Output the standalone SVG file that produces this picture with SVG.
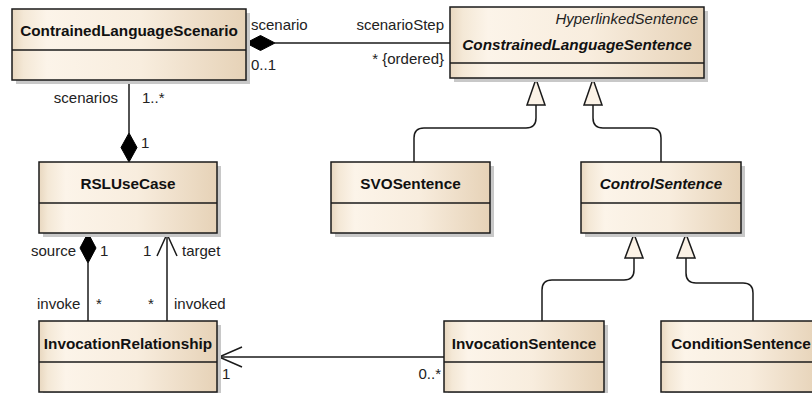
<svg xmlns="http://www.w3.org/2000/svg" width="812" height="393" viewBox="0 0 812 393">
<defs>
<linearGradient id="fill" x1="0" y1="0" x2="1" y2="0">
<stop offset="0" stop-color="#E8D7BF"/>
<stop offset="0.05" stop-color="#F4E8D6"/>
<stop offset="0.15" stop-color="#FCF4E9"/>
<stop offset="0.55" stop-color="#F8EDDE"/>
<stop offset="1" stop-color="#E6D2B7"/>
</linearGradient>
</defs>
<style>
.shadow{fill:#C8C8C8;}
.box{fill:url(#fill);stroke:#1a1a1a;stroke-width:1.5;}
.sep{stroke:#1a1a1a;stroke-width:1.5;}
.name{font-family:"Liberation Sans",Arial,sans-serif;font-size:15.3px;font-weight:bold;fill:#111;text-anchor:middle;}
.abs{font-style:italic;}
.stereo{font-family:"Liberation Sans",Arial,sans-serif;font-size:15px;font-style:italic;fill:#222;text-anchor:end;}
.lbl{font-family:"Liberation Sans",Arial,sans-serif;font-size:15px;fill:#222;}
.end{text-anchor:end;}
.line{fill:none;stroke:#1a1a1a;stroke-width:1.5;}
.tri{fill:#FBF2E6;stroke:#1a1a1a;stroke-width:1.5;stroke-linejoin:miter;}
.dia{fill:#000;stroke:#000;stroke-width:1;}
</style>

<g id="connectors">
<!-- composition scenario -->
<line class="line" x1="275" y1="43" x2="450" y2="43"/>
<polygon class="dia" points="246,43 260.5,35.5 275,43 260.5,50.5"/>
<!-- composition scenarios -->
<line class="line" x1="129" y1="80" x2="129" y2="133"/>
<polygon class="dia" points="129,162 121,147.5 129,133 137,147.5"/>
<!-- composition invoke -->
<line class="line" x1="88" y1="263" x2="88" y2="321"/>
<polygon class="dia" points="88,233 80,248 88,263 96,248"/>
<!-- association target -->
<line class="line" x1="167" y1="321" x2="167" y2="234"/>
<polyline class="line" points="157,256 167,234 177,256"/>
<!-- association InvocationSentence -> InvocationRelationship -->
<line class="line" x1="219" y1="357" x2="444" y2="357"/>
<polyline class="line" points="242,347 219,357 242,367"/>
<!-- generalizations -->
<path class="line" d="M536,105 V118 Q536,128 526,128 H424 Q414,128 414,138 V162"/>
<polygon class="tri" points="536,79 527,105 545,105"/>
<path class="line" d="M593,105 V118 Q593,128 603,128 H651 Q661,128 661,138 V162"/>
<polygon class="tri" points="593,79 584,105 602,105"/>
<path class="line" d="M634,258 V270 Q634,280 624,280 H552 Q542,280 542,290 V321"/>
<polygon class="tri" points="634,234 625,258 643,258"/>
<path class="line" d="M686,258 V273 Q686,283 696,283 H743 Q753,283 753,293 V321"/>
<polygon class="tri" points="686,234 677,258 695,258"/>
<!-- labels -->
<text class="lbl" x="251" y="30">scenario</text>
<text class="lbl end" x="444" y="30">scenarioStep</text>
<text class="lbl" x="251" y="70">0..1</text>
<text class="lbl end" x="444" y="64">* {ordered}</text>
<text class="lbl end" x="118" y="103">scenarios</text>
<text class="lbl" x="142" y="103">1..*</text>
<text class="lbl" x="141" y="148">1</text>
<text class="lbl end" x="76" y="256">source</text>
<text class="lbl" x="100" y="256">1</text>
<text class="lbl" x="143" y="256">1</text>
<text class="lbl" x="182" y="256">target</text>
<text class="lbl" x="37" y="309">invoke</text>
<text class="lbl" x="96" y="309">*</text>
<text class="lbl" x="148" y="309">*</text>
<text class="lbl" x="174" y="309">invoked</text>
<text class="lbl" x="222" y="379">1</text>
<text class="lbl end" x="441" y="379">0..*</text>
</g>

<g id="ContrainedLanguageScenario">
<rect class="shadow" x="16" y="13" width="234" height="71"/>
<rect class="box" x="12" y="9" width="234" height="71"/>
<line class="sep" x1="12" y1="50" x2="246" y2="50"/>
<text class="name" x="129" y="36">ContrainedLanguageScenario</text>
</g>

<g id="ConstrainedLanguageSentence">
<rect class="shadow" x="454" y="11" width="254" height="71"/>
<rect class="box" x="450" y="7" width="254" height="71"/>
<line class="sep" x1="450" y1="63" x2="704" y2="63"/>
<text class="stereo" x="698" y="24">HyperlinkedSentence</text>
<text class="name abs" x="577" y="50">ConstrainedLanguageSentence</text>
</g>

<g id="RSLUseCase">
<rect class="shadow" x="43" y="166" width="178" height="71"/>
<rect class="box" x="39" y="162" width="178" height="71"/>
<line class="sep" x1="39" y1="203" x2="217" y2="203"/>
<text class="name" x="128" y="189">RSLUseCase</text>
</g>

<g id="SVOSentence">
<rect class="shadow" x="335" y="166" width="159" height="71"/>
<rect class="box" x="331" y="162" width="159" height="71"/>
<line class="sep" x1="331" y1="203" x2="490" y2="203"/>
<text class="name" x="410.5" y="189">SVOSentence</text>
</g>

<g id="ControlSentence">
<rect class="shadow" x="585" y="166" width="160" height="71"/>
<rect class="box" x="581" y="162" width="160" height="71"/>
<line class="sep" x1="581" y1="203" x2="741" y2="203"/>
<text class="name abs" x="661" y="189">ControlSentence</text>
</g>

<g id="InvocationRelationship">
<rect class="shadow" x="43" y="325" width="178" height="71"/>
<rect class="box" x="39" y="321" width="178" height="71"/>
<line class="sep" x1="39" y1="362" x2="217" y2="362"/>
<text class="name" x="128" y="349">InvocationRelationship</text>
</g>

<g id="InvocationSentence">
<rect class="shadow" x="448" y="325" width="160" height="71"/>
<rect class="box" x="444" y="321" width="160" height="71"/>
<line class="sep" x1="444" y1="362" x2="604" y2="362"/>
<text class="name" x="524" y="349">InvocationSentence</text>
</g>

<g id="ConditionSentence">
<rect class="shadow" x="665" y="325" width="160" height="71"/>
<rect class="box" x="661" y="321" width="160" height="71"/>
<line class="sep" x1="661" y1="362" x2="821" y2="362"/>
<text class="name" x="741" y="349">ConditionSentence</text>
</g>
</svg>
